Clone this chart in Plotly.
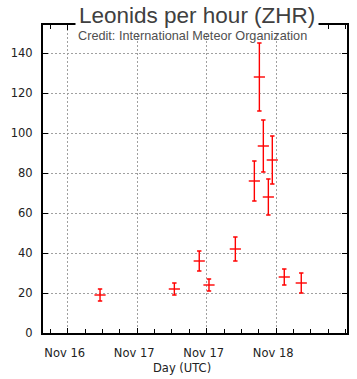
import plotly.graph_objects as go

# ---- data ----
times = ["2001-11-16 17:35", "2001-11-17 06:25", "2001-11-17 10:43", "2001-11-17 12:24",
         "2001-11-17 16:57", "2001-11-17 20:14", "2001-11-17 21:06", "2001-11-17 21:47",
         "2001-11-17 22:39", "2001-11-17 23:20", "2001-11-18 01:24", "2001-11-18 04:20"]
zhr = [19, 22, 36, 24, 42, 76, 128, 93.5, 68, 86.5, 28, 25]
zhr_err = [3, 3, 5, 3, 6, 10, 17, 13, 9, 12, 4, 5]

x_tickvals = ["2001-11-16 12:00", "2001-11-17 00:00", "2001-11-17 12:00", "2001-11-18 00:00"]
x_ticktext = ["Nov 16", "Nov 17", "Nov 17", "Nov 18"]
y_tickvals = [0, 20, 40, 60, 80, 100, 120, 140]

title_text = "Leonids per hour (ZHR)"
subtitle_text = "Credit: International Meteor Organization"
x_title = "Day (UTC)"

RED = "#ff0000"
GRID = "#a0a0a0"
TICKFONT = dict(family="DejaVu Sans", size=11.5, color="#222222")

fig = go.Figure()
fig.add_trace(go.Scatter(
    x=times, y=zhr, mode="markers",
    marker=dict(symbol="line-ew", size=8, color=RED, line=dict(color=RED, width=1.4)),
    error_y=dict(type="data", array=zhr_err, visible=True, color=RED, thickness=1.4, width=2.2),
    showlegend=False, hoverinfo="skip",
))

fig.update_layout(
    template="none",
    width=357, height=379,
    margin=dict(l=43, r=10, t=25, b=46),
    paper_bgcolor="white", plot_bgcolor="white",
    showlegend=False,
    xaxis=dict(
        type="date", automargin=False,
        range=["2001-11-16 07:44", "2001-11-18 12:14"],
        tickmode="array", tickvals=x_tickvals, ticktext=x_ticktext,
        showgrid=True, gridcolor=GRID, gridwidth=1, griddash="2px,2px",
        showline=True, linecolor="black", linewidth=2, mirror="ticks",
        ticks="inside", ticklen=5, tickcolor="black", tickwidth=1,
        tickfont=TICKFONT, ticklabelshift=-3, ticklabelstandoff=8,
        minor=dict(dtick=3 * 3600 * 1000, tick0="2001-11-16 00:00", ticks="inside",
                   ticklen=4, tickcolor="black", tickwidth=1, showgrid=False),
        zeroline=False,
    ),
    yaxis=dict(
        range=[0, 154], automargin=False,
        tickmode="array", tickvals=y_tickvals,
        showgrid=True, gridcolor=GRID, gridwidth=1, griddash="2px,2px",
        showline=True, linecolor="black", linewidth=2, mirror="ticks",
        ticks="inside", ticklen=5, tickcolor="black", tickwidth=1,
        tickfont=TICKFONT, ticklabelstandoff=6,
        zeroline=False,
    ),
    annotations=[
        dict(text=title_text, xref="paper", yref="paper", x=(75 - 43) / 304, y=1.0,
             xanchor="left", yanchor="middle", showarrow=False,
             font=dict(family="Liberation Sans", size=22.5, color="#404040"),
             bgcolor="white", borderpad=3, yshift=10),
        dict(text=subtitle_text, xref="paper", yref="paper", x=(76 - 43) / 304, y=1.0,
             xanchor="left", yanchor="middle", showarrow=False,
             font=dict(family="Liberation Sans", size=12.7, color="#505050"),
             yshift=-11),
        dict(text=x_title, xref="paper", yref="paper", x=(182 - 43) / 304, y=-35 / 308,
             xanchor="center", yanchor="middle", showarrow=False,
             font=TICKFONT),
    ],
)

fig.write_html("out.html",
               config={"displayModeBar": False, "staticPlot": True},
               post_script="document.body.style.margin='0';document.body.style.overflow='hidden';")
